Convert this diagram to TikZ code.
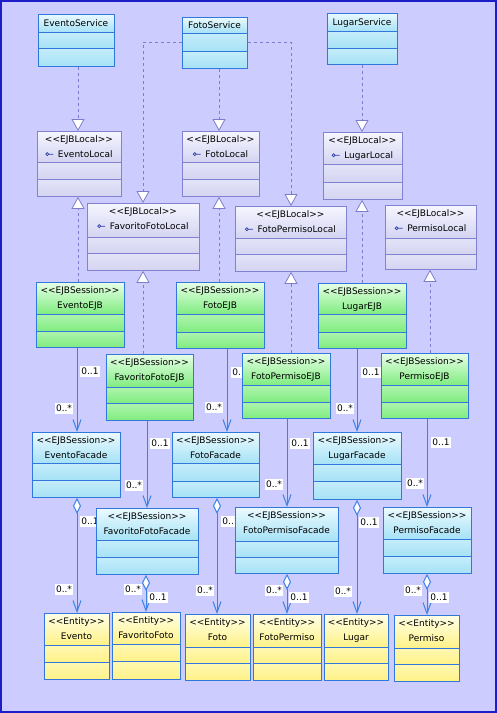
\documentclass[tikz,border=0pt]{standalone}
\usepackage{fontspec}
\newfontfamily\umlfont{DejaVu Sans}
\usetikzlibrary{arrows.meta}
\pgfdeclarelayer{back}
\pgfdeclarelayer{links}
\pgfsetlayers{back,links,main}

\definecolor{bgc}{RGB}{204,204,255}
\definecolor{framec}{RGB}{30,30,200}
\definecolor{cyT}{RGB}{236,250,255}
\definecolor{cyB}{RGB}{166,226,246}
\definecolor{cyL}{RGB}{50,120,220}
\definecolor{lvT}{RGB}{246,246,255}
\definecolor{lvB}{RGB}{212,212,242}
\definecolor{lvL}{RGB}{130,130,210}
\definecolor{grT}{RGB}{232,255,232}
\definecolor{grB}{RGB}{128,236,128}
\definecolor{grL}{RGB}{50,120,220}
\definecolor{yeT}{RGB}{255,255,232}
\definecolor{yeB}{RGB}{255,242,136}
\definecolor{yeL}{RGB}{50,120,220}
\definecolor{asc}{RGB}{60,130,230}
\definecolor{dsh}{RGB}{125,125,205}
\definecolor{iconc}{RGB}{40,60,170}

\tikzset{
  txt/.style={font=\umlfont\fontsize{9}{10}\selectfont, inner sep=0pt, text height=6.5pt, text depth=0.5pt},
  mult/.style={font=\umlfont\fontsize{9}{10}\selectfont, fill=white, inner xsep=1pt, inner ysep=2pt, text height=6.5pt, text depth=0.5pt},
  real/.style={draw=dsh, line width=0.8pt, dash pattern=on 3pt off 3pt, -{Triangle[length=12pt,width=13pt,fill=white]}},
  assoc/.style={draw=asc, line width=1pt, -{Straight Barb[length=11pt,width=8pt]}},
  aggr/.style={draw=asc, line width=1pt, {Diamond[length=16pt,width=8pt,fill=white]}-{Straight Barb[length=11pt,width=8pt]}}
}

\newcommand\Lolli{\tikz[baseline=-2.8pt]\draw[iconc,line width=0.7pt] (0pt,0pt) circle (1.5pt) (1.5pt,0pt) -- (6pt,0pt);}

\newcommand\BaseBox[8]{%
  \shade[top color=#2T,bottom color=#2B] (#3,#4) rectangle (#5,#7);
  \shade[top color=#2T!45!#2B,bottom color=#2B] (#3,#7) rectangle (#5,#8);
  \shade[top color=#2T!45!#2B,bottom color=#2B] (#3,#8) rectangle (#5,#6);
  \draw[#2L,line width=0.8pt] (#3,#7) -- (#5,#7) (#3,#8) -- (#5,#8);
  \node[draw=#2L,line width=0.8pt,inner sep=0pt,anchor=north west,
        minimum width={(#5-#3)*1pt},minimum height={(#6-#4)*1pt}] (#1) at (#3,#4) {};
}
\newcommand\TwoLine[6]{%
  \node[txt] (#1-s) at ({(#2+#4)/2},{#3+8}) {#5};
  \node[txt] (#1-t) at ({(#2+#4)/2},{#3+23}) {#6};
}
\newcommand\SvcBox[8]{\BaseBox{#1}{cy}{#2}{#3}{#4}{#5}{#6}{#7}%
  \node[txt] (#1-t) at ({(#2+#4)/2},{(#3+#6)/2}) {#8};}
\newcommand\LocBox[8]{\BaseBox{#1}{lv}{#2}{#3}{#4}{#5}{#6}{#7}%
  \TwoLine{#1}{#2}{#3}{#4}{<<EJBLocal>>}{\Lolli\ \,#8}}
\newcommand\EjbBox[8]{\BaseBox{#1}{gr}{#2}{#3}{#4}{#5}{#6}{#7}%
  \TwoLine{#1}{#2}{#3}{#4}{<<EJBSession>>}{#8}}
\newcommand\FacBox[8]{\BaseBox{#1}{cy}{#2}{#3}{#4}{#5}{#6}{#7}%
  \TwoLine{#1}{#2}{#3}{#4}{<<EJBSession>>}{#8}}
\newcommand\EntBox[8]{\BaseBox{#1}{ye}{#2}{#3}{#4}{#5}{#6}{#7}%
  \TwoLine{#1}{#2}{#3}{#4}{<<Entity>>}{#8}}

\begin{document}
\begin{tikzpicture}[x=1pt,y=-1pt]
\useasboundingbox (0,0) rectangle (497,713);
\begin{pgfonlayer}{back}
  \fill[bgc] (0,0) rectangle (497,713);
  \draw[framec,line width=2pt] (1,1) rectangle (496,712);
\end{pgfonlayer}

% services
\SvcBox{EventoService}{38}{14}{114}{66}{32}{48}{EventoService}
\SvcBox{FotoService}{182}{17}{247}{68}{33}{51}{FotoService}
\SvcBox{LugarService}{327}{13}{397}{64}{31}{48}{LugarService}

% local interfaces
\LocBox{EventoLocal}{37}{131}{121}{196}{162}{179}{EventoLocal}
\LocBox{FotoLocal}{182}{131}{259}{196}{162}{179}{FotoLocal}
\LocBox{LugarLocal}{323}{132}{402}{199}{164}{182}{LugarLocal}
\LocBox{FavoritoFotoLocal}{87}{203}{199}{270}{237}{253}{FavoritoFotoLocal}
\LocBox{FotoPermisoLocal}{235}{206}{346}{271}{238}{254}{FotoPermisoLocal}
\LocBox{PermisoLocal}{385}{205}{476}{269}{238}{254}{PermisoLocal}

% EJBs
\EjbBox{EventoEJB}{36}{282}{124}{347}{314}{331}{EventoEJB}
\EjbBox{FotoEJB}{176}{282}{264}{348}{314}{332}{FotoEJB}
\EjbBox{LugarEJB}{318}{283}{406}{348}{314}{332}{LugarEJB}
\EjbBox{FavoritoFotoEJB}{106}{354}{193}{420}{387}{403}{FavoritoFotoEJB}
\EjbBox{FotoPermisoEJB}{242}{353}{330}{418}{385}{402}{FotoPermisoEJB}
\EjbBox{PermisoEJB}{381}{353}{468}{418}{385}{402}{PermisoEJB}

% facades
\FacBox{EventoFacade}{32}{432}{120}{497}{463}{480}{EventoFacade}
\FacBox{FotoFacade}{172}{432}{259}{497}{463}{481}{FotoFacade}
\FacBox{LugarFacade}{313}{432}{401}{499}{464}{481}{LugarFacade}
\FacBox{FavoritoFotoFacade}{96}{508}{198}{574}{540}{557}{FavoritoFotoFacade}
\FacBox{FotoPermisoFacade}{235}{507}{338}{573}{541}{557}{FotoPermisoFacade}
\FacBox{PermisoFacade}{383}{507}{471}{573}{539}{556}{PermisoFacade}

% entities
\EntBox{Evento}{44}{613}{109}{679}{645}{662}{Evento}
\EntBox{FavoritoFoto}{112}{612}{180}{679}{644}{661}{FavoritoFoto}
\EntBox{Foto}{185}{614}{250}{680}{647}{663}{Foto}
\EntBox{FotoPermiso}{253}{614}{321}{680}{647}{663}{FotoPermiso}
\EntBox{Lugar}{324}{614}{388}{680}{647}{663}{Lugar}
\EntBox{Permiso}{394}{615}{459}{681}{648}{664}{Permiso}

\begin{pgfonlayer}{links}
  % realizations
  \draw[real] (EventoService.south -| 78,0) -- (EventoLocal.north -| 78,0);
  \draw[real] (FotoService.south -| 219,0) -- (FotoLocal.north -| 219,0);
  \draw[real] (FotoService.west |- 0,42) -| (FavoritoFotoLocal.north -| 143,0);
  \draw[real] (FotoService.east |- 0,42) -| (FotoPermisoLocal.north -| 291,0);
  \draw[real] (LugarService.south -| 362,0) -- (LugarLocal.north -| 362,0);
  \draw[real] (EventoEJB.north -| 78,0) -- (EventoLocal.south -| 78,0);
  \draw[real] (FotoEJB.north -| 219,0) -- (FotoLocal.south -| 219,0);
  \draw[real] (LugarEJB.north -| 362,0) -- (LugarLocal.south -| 362,0);
  \draw[real] (FavoritoFotoEJB.north -| 143,0) -- (FavoritoFotoLocal.south -| 143,0);
  \draw[real] (FotoPermisoEJB.north -| 291,0) -- (FotoPermisoLocal.south -| 291,0);
  \draw[real] (PermisoEJB.north -| 430,0) -- (PermisoLocal.south -| 430,0);

  % associations
  \draw[assoc] (EventoEJB.south -| 77,0) -- (EventoFacade.north -| 77,0);
  \draw[assoc] (FavoritoFotoEJB.south -| 147,0) -- (FavoritoFotoFacade.north -| 147,0);
  \draw[assoc] (FotoEJB.south -| 227,0) -- (FotoFacade.north -| 227,0);
  \draw[assoc] (FotoPermisoEJB.south -| 287,0) -- (FotoPermisoFacade.north -| 287,0);
  \draw[assoc] (LugarEJB.south -| 357,0) -- (LugarFacade.north -| 357,0);
  \draw[assoc] (PermisoEJB.south -| 427,0) -- (PermisoFacade.north -| 427,0);

  % aggregations
  \draw[aggr] (EventoFacade.south -| 77,0) -- (Evento.north -| 77,0);
  \draw[aggr] (FavoritoFotoFacade.south -| 146,0) -- (FavoritoFoto.north -| 146,0);
  \draw[aggr] (FotoFacade.south -| 217,0) -- (Foto.north -| 217,0);
  \draw[aggr] (FotoPermisoFacade.south -| 287,0) -- (FotoPermiso.north -| 287,0);
  \draw[aggr] (LugarFacade.south -| 357,0) -- (Lugar.north -| 357,0);
  \draw[aggr] (PermisoFacade.south -| 427,0) -- (Permiso.north -| 427,0);

  % multiplicities
  \node[mult] (m1) at (90,371) {0..1};
  \node[mult] (m2) at (64,408) {0..*};
  \node[mult] (m3) at (160,443) {0..1};
  \node[mult] (m4) at (134,485) {0..*};
  \node[mult] (m5) at (241,372) {0..1};
  \node[mult] (m6) at (214,407) {0..*};
  \node[mult] (m7) at (300,443) {0..1};
  \node[mult] (m8) at (274,484) {0..*};
  \node[mult] (m9) at (371,372) {0..1};
  \node[mult] (m10) at (345,408) {0..*};
  \node[mult] (m11) at (441,442) {0..1};
  \node[mult] (m12) at (415,483) {0..*};
  \node[mult] (a1) at (90,521) {0..1};
  \node[mult] (a2) at (64,589) {0..*};
  \node[mult] (a3) at (133,589) {0..*};
  \node[mult] (a4) at (158,597) {0..1};
  \node[mult] (a5) at (231,521) {0..1};
  \node[mult] (a6) at (205,590) {0..*};
  \node[mult] (a7) at (274,590) {0..*};
  \node[mult] (a8) at (299,597) {0..1};
  \node[mult] (a9) at (369,522) {0..1};
  \node[mult] (a10) at (343,591) {0..*};
  \node[mult] (a11) at (413,590) {0..*};
  \node[mult] (a12) at (439,597) {0..1};
\end{pgfonlayer}
\end{tikzpicture}
\end{document}
